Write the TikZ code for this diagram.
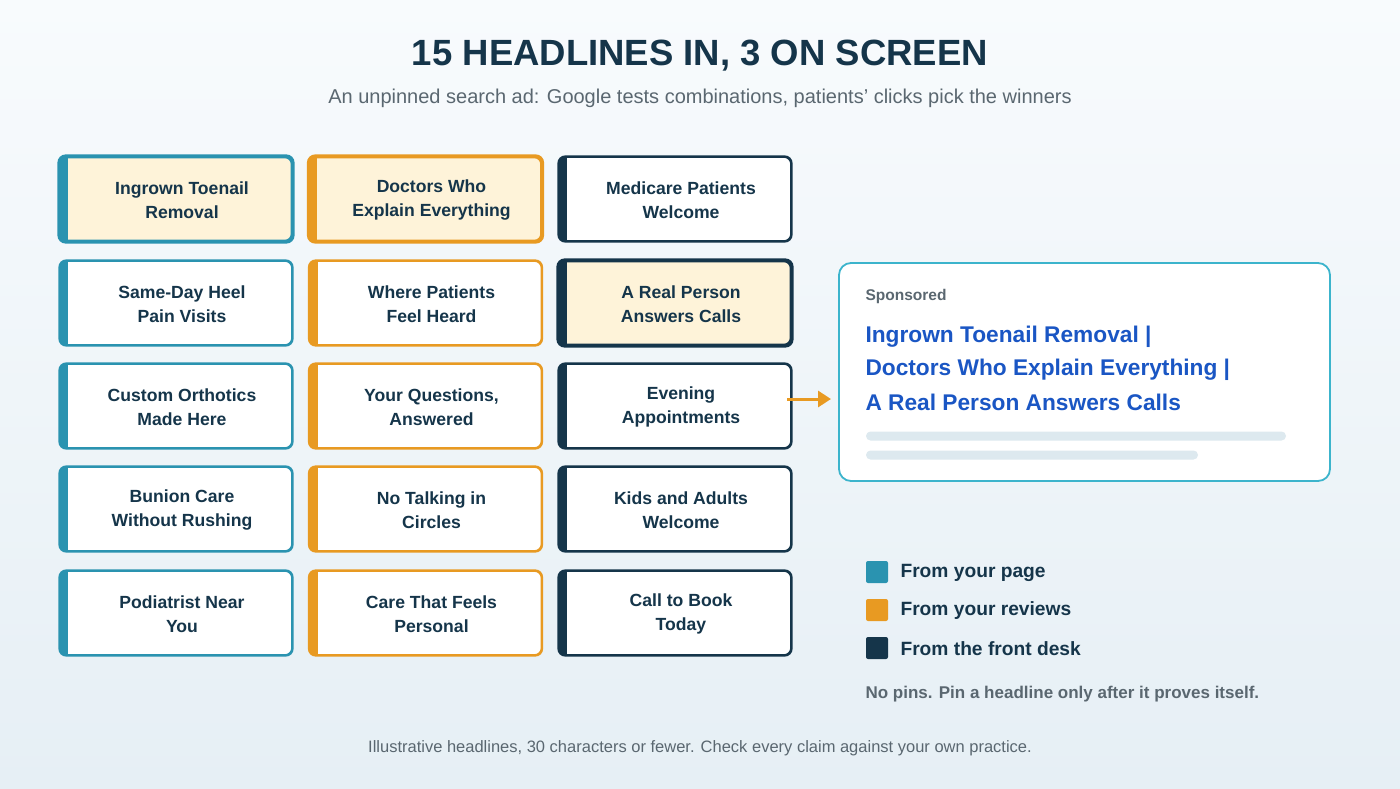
\documentclass[tikz,border=0pt]{standalone}
\usepackage{fontspec}
\setmainfont{Liberation Sans}
\usetikzlibrary{arrows.meta}
\begin{document}
\definecolor{tealc}{HTML}{2A93B0}
\definecolor{orng}{HTML}{E89A22}
\definecolor{navy}{HTML}{15354A}
\definecolor{cream}{HTML}{FEF3D9}
\definecolor{adblue}{HTML}{1A56C4}
\definecolor{grayt}{HTML}{5A6770}
\definecolor{bar}{HTML}{DDE9EF}
\definecolor{bgtop}{HTML}{F8FBFD}
\definecolor{bgbot}{HTML}{E6EFF5}
\definecolor{adborder}{HTML}{3CB4CC}
\begin{tikzpicture}[x=1pt,y=-1pt,
 card/.style={draw=#1,line width=1.6pt,fill=white,rounded corners=7pt,minimum width=232pt,minimum height=84pt,inner sep=0pt},
 sel/.style={line width=2.6pt,fill=cream},
 ct/.style={font=\bfseries\fontsize{17.6}{24}\selectfont,text=navy,align=center},
 leg/.style={font=\bfseries\fontsize{19.2}{22}\selectfont,text=navy,anchor=west},
 adh/.style={anchor=west,font=\bfseries\fontsize{22.7}{26}\selectfont,text=adblue}]
\shade[top color=bgtop,bottom color=bgbot] (0,0) rectangle (1400,788);
\useasboundingbox (0,0) rectangle (1400,788);
\node[font=\bfseries\fontsize{36.5}{40}\selectfont,text=navy] (title) at (700,56) {15 HEADLINES IN, 3 ON SCREEN};
\node[font=\fontsize{20}{22}\selectfont,text=grayt] (sub) at (700,98) {An unpinned search ad: Google tests combinations, patients' clicks pick the winners};
\def\cardd#1#2#3#4#5#6{%
 \node[card=#3,#4] (#1) at (#2) {};
 \begin{scope}
 \clip[rounded corners=7pt] (#1.north west) rectangle (#1.south east);
 \fill[#3] (#1.north west) rectangle ([xshift=9pt]#1.south west);
 \end{scope}
 \draw[#3,line width=1.6pt,#4,fill=none,rounded corners=7pt] (#1.north west) rectangle (#1.south east);
 \node[ct] at ([xshift=6pt,yshift=-1pt]#1.center) {#5\\#6};}
\cardd{a1}{176,199}{tealc}{sel}{Ingrown Toenail}{Removal}
\cardd{b1}{425.5,199}{orng}{sel}{Doctors Who}{Explain Everything}
\cardd{c1}{675,199}{navy}{}{Medicare Patients}{Welcome}
\cardd{a2}{176,303}{tealc}{}{Same-Day Heel}{Pain Visits}
\cardd{b2}{425.5,303}{orng}{}{Where Patients}{Feel Heard}
\cardd{c2}{675,303}{navy}{sel}{A Real Person}{Answers Calls}
\cardd{a3}{176,406}{tealc}{}{Custom Orthotics}{Made Here}
\cardd{b3}{425.5,406}{orng}{}{Your Questions,}{Answered}
\cardd{c3}{675,406}{navy}{}{Evening}{Appointments}
\cardd{a4}{176,509}{tealc}{}{Bunion Care}{Without Rushing}
\cardd{b4}{425.5,509}{orng}{}{No Talking in}{Circles}
\cardd{c4}{675,509}{navy}{}{Kids and Adults}{Welcome}
\cardd{a5}{176,613}{tealc}{}{Podiatrist Near}{You}
\cardd{b5}{425.5,613}{orng}{}{Care That Feels}{Personal}
\cardd{c5}{675,613}{navy}{}{Call to Book}{Today}
% ad
\node[draw=adborder,line width=1.8pt,fill=white,rounded corners=12pt,minimum width=491pt,minimum height=218pt] (ad) at (1084.5,372) {};
\node[anchor=west,font=\bfseries\fontsize{15.5}{16}\selectfont,text=grayt] (sp) at (862,296) {Sponsored};
\node[adh] (h1) at (862,337) {Ingrown Toenail Removal |};
\node[adh] (h2) at (862,370) {Doctors Who Explain Everything |};
\node[adh] (h3) at (862,402) {A Real Person Answers Calls};
\fill[bar,rounded corners=4.5pt] (866,431.5) rectangle (1286,440.5);
\fill[bar,rounded corners=4.5pt] (866,450.5) rectangle (1198,459.5);
\coordinate (arS) at (787,399);
\coordinate (arE) at (831,399);
\draw[orng,line width=3pt,-{Triangle[length=13pt,width=16pt]}] (arS) -- (arE);
% legend
\fill[tealc,rounded corners=2pt] (866,561) rectangle (888,583);
\node[leg] (l1) at (897,573) {From your page};
\fill[orng,rounded corners=2pt] (866,599) rectangle (888,621);
\node[leg] (l2) at (897,611) {From your reviews};
\fill[navy,rounded corners=2pt] (866,637) rectangle (888,659);
\node[leg] (l3) at (897,649) {From the front desk};
\node[anchor=west,font=\bfseries\fontsize{17}{18}\selectfont,text=grayt] (note) at (862,694) {No pins. Pin a headline only after it proves itself.};
\node[font=\fontsize{16.5}{18}\selectfont,text=grayt] (foot) at (700,748) {Illustrative headlines, 30 characters or fewer. Check every claim against your own practice.};
\end{tikzpicture}
\end{document}
